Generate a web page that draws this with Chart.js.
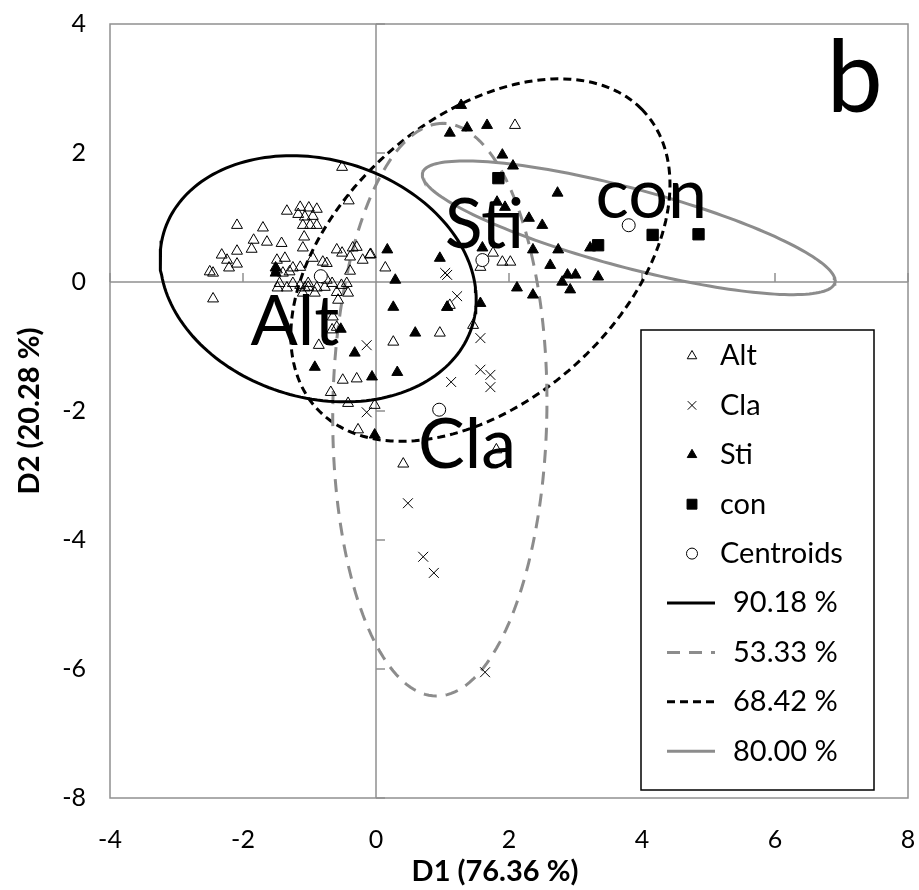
<!DOCTYPE html>
<html><head><meta charset="utf-8">
<script src="https://cdn.jsdelivr.net/npm/chart.js@4.4.1/dist/chart.umd.min.js"></script>
<style>html,body{margin:0;padding:0;background:#fff;}#wrap{width:919px;height:890px;}</style>
</head><body><div id="wrap"><canvas id="c" width="919" height="890"></canvas></div>
<script>
// ---- data ----
const xTicks = [-4, -2, 0, 2, 4, 6, 8];
const yTicks = [-8, -6, -4, -2, 0, 2, 4];
const xTitle = 'D1 (76.36 %)';
const yTitle = 'D2 (20.28 %)';
const seriesNames = ['Alt', 'Cla', 'Sti', 'con', 'Centroids'];
const altPoints = [
 [-2.50,0.16],[-2.45,0.14],[-2.45,-0.26],[-2.32,0.42],[-2.24,0.34],[-2.21,0.22],[-2.09,0.48],[-2.09,0.28],[-2.09,0.88],
 [-1.87,0.51],[-1.84,0.65],[-1.70,0.84],[-1.64,0.62],[-1.42,0.60],[-1.34,1.10],[-1.14,1.16],[-1.01,1.15],[-0.89,1.13],
 [-1.17,1.05],[-1.07,1.01],[-0.95,1.02],[-1.10,0.88],[-0.99,0.88],[-0.89,0.88],[-1.08,0.70],[-1.10,0.53],[-0.51,1.78],
 [-0.41,1.26],[-1.49,0.34],[-1.37,0.37],[-1.25,0.22],[-0.95,0.37],[-0.80,0.31],[-0.74,0.29],[-0.59,0.50],[-0.51,0.45],
 [-0.35,0.53],[-0.29,0.54],[-0.20,0.34],[-0.08,0.43],[-0.39,0.39],[-0.39,0.17],[0.14,0.22],[-1.48,-0.09],[-1.34,-0.09],
 [-1.14,-0.05],[-1.02,-0.08],[-0.89,-0.09],[-0.77,-0.08],[-1.10,-0.17],[-0.92,-0.17],[-0.59,-0.16],[-0.44,-0.02],
 [-0.42,-0.17],[-0.57,-0.28],[-1.49,0.19],[-1.40,0.14],[-1.30,0.16],[-1.14,0.23],[-0.74,0.03],[-1.45,-0.02],[-1.25,-0.02],
 [-1.02,-0.02],[-1.07,-0.09],[-0.66,-0.02],[-0.52,-0.05],[-0.65,-0.54],[-0.59,-0.70],[-0.66,-0.74],[-0.86,-0.98],
 [0.26,-0.93],[0.96,-0.79],[1.46,-0.67],[1.11,-0.36],[1.07,-0.39],[-0.50,-1.52],[-0.29,-1.50],[-0.68,-1.71],[-0.42,-1.88],
 [-0.02,-1.91],[-0.27,-2.29],[0.41,-2.82],[1.81,-2.60],[-0.09,0.42],[1.76,0.45],[1.90,0.31],[2.02,0.31],[1.57,0.23],[2.09,2.43]
];
const claPoints = [
 [1.04,0.14],[1.07,0.11],[1.22,-0.22],[-0.14,-0.98],[1.57,-0.87],[1.57,-1.36],[1.72,-1.44],[1.72,-1.63],[1.13,-1.55],
 [-0.14,-2.02],[0.48,-3.43],[0.71,-4.26],[0.87,-4.51],[1.64,-6.05]
];
const stiPoints = [
 [1.28,2.74],[1.11,2.31],[1.37,2.39],[1.67,2.43],[1.90,1.97],[2.06,1.80],[2.73,1.38],[1.82,1.24],[1.94,1.16],[2.30,0.99],
 [2.50,0.88],[2.36,0.50],[2.74,0.50],[2.62,0.26],[2.88,0.11],[3.00,0.11],[2.80,0.00],[2.92,-0.12],[3.34,0.08],[3.22,0.53],
 [2.12,-0.09],[2.36,-0.20],[1.60,0.53],[0.96,0.37],[0.17,0.50],[0.29,0.03],[0.26,-0.39],[1.57,-0.33],[1.07,-0.39],
 [0.59,-0.79],[0.32,-1.40],[-0.06,-1.47],[-0.02,-2.37],[-0.32,-1.10],[-0.92,-1.32],[-0.53,-0.73],[-1.51,0.22],[-1.51,0.14]
];
const conPoints = [[1.84,1.61],[3.34,0.57],[4.16,0.73],[4.85,0.74]];
const centroidPoints = [[-0.83,0.09],[0.95,-1.98],[1.60,0.34],[3.80,0.88]];
// confidence ellipses (centre, semi-axes, rotation in degrees)
const ellipseNames = ['90.18 %', '53.33 %', '68.42 %', '80.00 %'];
const ellipseCenters = [[-0.87,0.05],[0.96,-1.98],[1.57,0.34],[3.80,0.84]];
const ellipseAxes = [[2.43,1.84],[4.44,1.61],[3.37,2.16],[3.215,0.61]];
const ellipseAngles = [-18.6, 89.3, 44, -15.4];
// text annotations
const groupTags = ['Alt', 'Sti', 'con', 'Cla', 'b'];
const groupTagAt = [[-1.22,-0.98],[1.63,0.53],[4.14,0.99],[1.37,-2.88],[7.20,2.64]];

const FONT = 'Lato';
const GRAY = '#8c8c8c';
const toXY = a => a.map(p => ({x: p[0], y: p[1]}));
function ellipseCurve(i) {
  const [cx, cy] = ellipseCenters[i], [a, b] = ellipseAxes[i], th = ellipseAngles[i] * Math.PI / 180;
  const pts = [];
  for (let k = 0; k <= 180; k++) {
    const t = k / 180 * 2 * Math.PI;
    pts.push({x: cx + a * Math.cos(t) * Math.cos(th) - b * Math.sin(t) * Math.sin(th),
              y: cy + a * Math.cos(t) * Math.sin(th) + b * Math.sin(t) * Math.cos(th)});
  }
  return pts;
}
const ellipseStyles = [
  {color: '#000', dash: []},
  {color: GRAY, dash: [13, 9]},
  {color: '#000', dash: [8, 5]},
  {color: GRAY, dash: []}
];
const markerStyles = [
  {pointStyle: 'triangle', radius: 6.3, bg: 'rgba(0,0,0,0)', lr: 5.5},
  {pointStyle: 'crossRot', radius: 7, bg: 'rgba(0,0,0,0)', lr: 6},
  {pointStyle: 'triangle', radius: 6.3, bg: '#000', lr: 5.5},
  {pointStyle: 'rect', radius: 8, bg: '#000', lr: 7},
  {pointStyle: 'circle', radius: 6.5, bg: '#fff', lr: 5.5}
];
const pointSets = [altPoints, claPoints, stiPoints, conPoints, centroidPoints];

const datasets = [];
pointSets.forEach((arr, i) => {
  const m = markerStyles[i];
  datasets.push({label: seriesNames[i], data: toXY(arr), pointStyle: m.pointStyle, pointRadius: m.radius,
    pointBackgroundColor: m.bg, pointBorderColor: '#000', pointBorderWidth: 1, showLine: false,
    order: i === 4 ? -1 : 0, legendKind: 'marker', legendRadius: m.lr});
});
ellipseNames.forEach((n, i) => {
  datasets.push({label: n, data: ellipseCurve(i), showLine: true, pointRadius: 0, borderColor: ellipseStyles[i].color,
    borderWidth: 3, borderDash: ellipseStyles[i].dash, fill: false, tension: 0, order: 10, legendKind: 'line'});
});

const crossAxes = {
  id: 'crossAxes',
  beforeDatasetsDraw(chart) {
    const {ctx, chartArea: a, scales: {x, y}} = chart;
    ctx.save();
    ctx.strokeStyle = '#909090'; ctx.lineWidth = 1.5;
    ctx.strokeRect(a.left, a.top, a.right - a.left, a.bottom - a.top);
    const x0 = x.getPixelForValue(0), y0 = y.getPixelForValue(0);
    ctx.beginPath();
    ctx.moveTo(a.left, y0); ctx.lineTo(a.right, y0);
    ctx.moveTo(x0, a.top); ctx.lineTo(x0, a.bottom);
    x.ticks.forEach(t => { const px = x.getPixelForValue(t.value); ctx.moveTo(px, y0); ctx.lineTo(px, y0 - 9); });
    y.ticks.forEach(t => { const py = y.getPixelForValue(t.value); ctx.moveTo(x0, py); ctx.lineTo(x0 + 9, py); });
    ctx.stroke();
    ctx.restore();
  }
};
const tags = {
  id: 'tags',
  afterDatasetsDraw(chart) {
    const {ctx, chartArea: a, scales: {x, y}} = chart;
    ctx.save();
    ctx.fillStyle = '#000'; ctx.textAlign = 'center'; ctx.textBaseline = 'alphabetic';
    groupTags.forEach((t, i) => {
      ctx.font = (t === 'b' ? 100 : 70) + 'px ' + FONT;
      ctx.fillText(t, x.getPixelForValue(groupTagAt[i][0]), y.getPixelForValue(groupTagAt[i][1]));
    });
    // x-axis title (placed as in the original, slightly left of the plot centre)
    ctx.font = 'bold 29px ' + FONT; ctx.textBaseline = 'middle';
    ctx.fillText(xTitle, (a.left + a.right) / 2 - 14, a.bottom + 74);
    ctx.restore();
  }
};
const boxLegend = {
  id: 'boxLegend',
  afterDraw(chart, args, o) {
    const {ctx, chartArea: a} = chart;
    const L = a.left + o.left, T = a.top + o.top;
    ctx.save();
    ctx.fillStyle = '#fff'; ctx.fillRect(L, T, o.width, o.height);
    ctx.strokeStyle = '#000'; ctx.lineWidth = 1.5; ctx.strokeRect(L, T, o.width, o.height);
    ctx.font = o.fontSize + 'px ' + FONT; ctx.textBaseline = 'middle'; ctx.textAlign = 'left';
    chart.data.datasets.forEach((ds, i) => {
      const yy = T + o.first + i * o.step;
      if (ds.legendKind === 'marker') {
        ctx.fillStyle = ds.pointBackgroundColor; ctx.strokeStyle = '#000'; ctx.lineWidth = 1;
        Chart.helpers.drawPoint(ctx, {pointStyle: ds.pointStyle, radius: ds.legendRadius, rotation: 0, borderWidth: 1}, L + o.markerX, yy);
        ctx.fillStyle = '#000'; ctx.fillText(ds.label, L + o.textX, yy);
      } else {
        ctx.strokeStyle = ds.borderColor; ctx.lineWidth = 3; ctx.setLineDash(ds.borderDash);
        ctx.beginPath(); ctx.moveTo(L + o.lineX0, yy); ctx.lineTo(L + o.lineX1, yy); ctx.stroke();
        ctx.setLineDash([]);
        ctx.fillStyle = '#000'; ctx.fillText(ds.label, L + o.lineTextX, yy);
      }
    });
    ctx.restore();
  }
};

new Chart(document.getElementById('c'), {
  type: 'scatter',
  data: {datasets},
  plugins: [crossAxes, tags, boxLegend],
  options: {
    responsive: false, animation: false, devicePixelRatio: 1,
    layout: {autoPadding: false, padding: {top: 24, right: 11, left: 0, bottom: 0}},
    plugins: {
      legend: {display: false}, tooltip: {enabled: false},
      boxLegend: {left: 531, top: 306, width: 233, height: 460, first: 26, step: 49.4,
        markerX: 51, textX: 79, lineX0: 26, lineX1: 74, lineTextX: 92, fontSize: 29}
    },
    scales: {
      x: {type: 'linear', min: xTicks[0], max: xTicks[xTicks.length - 1],
        afterBuildTicks: s => { s.ticks = xTicks.map(v => ({value: v})); },
        afterFit: s => { s.height = 92; s.paddingRight = 0; s.paddingLeft = 0; },
        grid: {display: false, drawTicks: false}, border: {display: false},
        ticks: {font: {family: FONT, size: 25}, color: '#000', padding: 27},
        title: {display: false}
      },
      y: {type: 'linear', min: yTicks[0], max: yTicks[yTicks.length - 1],
        afterBuildTicks: s => { s.ticks = yTicks.map(v => ({value: v})); },
        afterFit: s => { s.width = 110; s.paddingTop = 0; s.paddingBottom = 0; },
        grid: {display: false, drawTicks: false}, border: {display: false},
        ticks: {font: {family: FONT, size: 25}, color: '#000', padding: 24},
        title: {display: true, text: yTitle, font: {family: FONT, size: 29, weight: 'bold'}, color: '#000', padding: {top: 12}}
      }
    }
  }
});
</script></body></html>
